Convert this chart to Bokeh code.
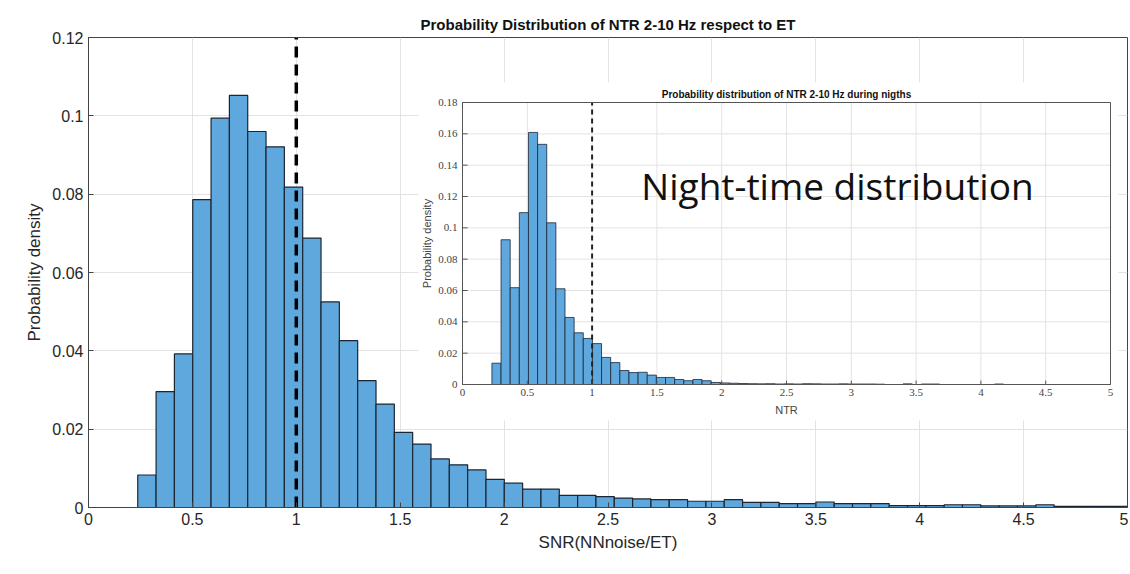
import numpy as np
from bokeh.plotting import figure
from bokeh.models import Range1d, CustomJSTickFormatter, FixedTicker, ColumnDataSource, Label
from bokeh.embed import file_html
from bokeh.resources import INLINE

# ---- main histogram data ----
main_edge0 = 0.237
main_width = 0.0882
main_heights = [0.0083, 0.0296, 0.0392, 0.0786, 0.0994, 0.1052, 0.0960, 0.0921, 0.0818, 0.0688,
                0.0525, 0.0426, 0.0324, 0.0264, 0.0192, 0.0162, 0.0124, 0.0109, 0.0096, 0.0072,
                0.0062, 0.0047, 0.0047, 0.0031, 0.0031, 0.0028, 0.0024, 0.0022, 0.0020, 0.0020,
                0.0016, 0.0016, 0.0020, 0.0013, 0.0013, 0.0010, 0.0010, 0.0014, 0.0010, 0.0010,
                0.0010, 0.0005, 0.0005, 0.0005, 0.0007, 0.0007, 0.0004, 0.0004, 0.0004, 0.0007,
                0.0003, 0.0003, 0.0003, 0.0003]

# ---- inset histogram data ----
inset_edge0 = 0.227
inset_width = 0.0705
inset_heights = [0.0136, 0.0924, 0.0618, 0.1097, 0.1609, 0.1533, 0.1032, 0.0611, 0.0428, 0.0330,
                 0.0294, 0.0261, 0.0173, 0.0140, 0.0089, 0.0076, 0.0078, 0.0060, 0.0045, 0.0045,
                 0.0032, 0.0024, 0.0032, 0.0024, 0.0013, 0.0010, 0.0008, 0.0006, 0.0005, 0.0004,
                 0.0005, 0.0003, 0.0004, 0.0003, 0.0005, 0.0004, 0.0003, 0.0003, 0.0004, 0.0003,
                 0.0003, 0.0003, 0.0002, 0.0000, 0.0000, 0.0004, 0.0000, 0.0003, 0.0003, 0.0000,
                 0.0000, 0.0000, 0.0000, 0.0000, 0.0000, 0.0003, 0.0000, 0.0000, 0.0000, 0.0000,
                 0.0000, 0.0000, 0.0000, 0.0000, 0.0000, 0.0000, 0.0000, 0.0000]

main_xticks = [0, 0.5, 1, 1.5, 2, 2.5, 3, 3.5, 4, 4.5, 5]
main_yticks = [0, 0.02, 0.04, 0.06, 0.08, 0.1, 0.12]
inset_xticks = [0, 0.5, 1, 1.5, 2, 2.5, 3, 3.5, 4, 4.5, 5]
inset_yticks = [0, 0.02, 0.04, 0.06, 0.08, 0.1, 0.12, 0.14, 0.16, 0.18]
threshold = 1.0

BAR = "#5EA8DD"
EDGE = "#1c2633"
GRID = "#e3e3e3"
TXT = "#262626"

p = figure(width=1128, height=560, output_backend="svg", toolbar_location=None,
           x_range=Range1d(0, 5), y_range=Range1d(0, 0.12),
           min_border_left=88, min_border_right=1, min_border_top=37, min_border_bottom=53,
           title="Probability Distribution of NTR 2-10 Hz respect to ET")
p.title.align = "center"
p.title.text_font = "Liberation Sans"
p.title.text_font_size = "15px"
p.title.text_color = "#111111"
p.title.offset = -4

fmt = CustomJSTickFormatter(code="return tick.toFixed(2).replace(/0+$/,'').replace(/\\.$/,'');")
p.xaxis.ticker = FixedTicker(ticks=main_xticks)
p.yaxis.ticker = FixedTicker(ticks=main_yticks)
p.yaxis.formatter = fmt
p.xaxis.formatter = fmt
for ax in (p.xaxis, p.yaxis):
    ax.major_label_text_font = "Liberation Sans"
    ax.major_label_text_font_size = "16px"
    ax.major_label_text_color = TXT
    ax.axis_label_text_font = "Liberation Sans"
    ax.axis_label_text_font_size = "17px"
    ax.axis_label_text_font_style = "normal"
    ax.axis_label_text_color = TXT
    ax.axis_line_color = "#444444"
    ax.major_tick_line_color = "#444444"
    ax.major_tick_in = 5
    ax.major_tick_out = 0
    ax.minor_tick_line_color = None
p.xaxis.axis_label = "SNR(NNnoise/ET)"
p.yaxis.axis_label = "Probability density"
p.outline_line_color = "#444444"
p.grid.grid_line_color = GRID
p.background_fill_color = "white"

n = len(main_heights)
ml = main_edge0 + main_width * np.arange(n)
p.quad(left=ml, right=ml + main_width, bottom=0, top=main_heights,
       fill_color=BAR, line_color=EDGE, line_width=1.2)
p.line(x=[threshold, threshold], y=[0, 0.12], line_color="black", line_width=3.5, line_dash="11 7")

# ---- inset mapped with extra ranges ----
fx0, fx1, fy0, fy1 = 88, 1127, 37, 507   # main frame px
ix0, ix1, iy0, iy1 = 462, 1110, 102, 384  # inset frame px
sx = (ix1 - ix0) / 5.0
sy = (iy1 - iy0) / 0.18
p.extra_x_ranges = {"ix": Range1d(-(ix0 - fx0) / sx, 5 + (fx1 - ix1) / sx)}
p.extra_y_ranges = {"iy": Range1d(-(fy1 - iy1) / sy, 0.18 + (iy0 - fy0) / sy)}
kw = dict(x_range_name="ix", y_range_name="iy")

p.quad(left=-(ix0 - 418) / sx, right=5 + (1118 - ix1) / sx, bottom=-(420 - iy1) / sy,
       top=0.18 + (iy0 - 82) / sy, fill_color="white", line_color=None, **kw)
for t in inset_xticks[1:-1]:
    p.line(x=[t, t], y=[0, 0.18], line_color=GRID, line_width=1, **kw)
for t in inset_yticks[1:-1]:
    p.line(x=[0, 5], y=[t, t], line_color=GRID, line_width=1, **kw)
m = len(inset_heights)
il = inset_edge0 + inset_width * np.arange(m)
ih = np.array(inset_heights)
keep = ih > 0
p.quad(left=il[keep], right=il[keep] + inset_width, bottom=0, top=ih[keep],
       fill_color=BAR, line_color=EDGE, line_width=0.8, **kw)
p.line(x=[threshold, threshold], y=[0, 0.18], line_color="#222222", line_width=2, line_dash="5 4", **kw)
p.quad(left=0, right=5, bottom=0, top=0.18, fill_color=None, line_color="#555555", line_width=1, **kw)
for t in inset_xticks:
    p.line(x=[t, t], y=[0, 0.0025], line_color="#555555", line_width=1, **kw)
for t in inset_yticks:
    p.line(x=[0, 0.04], y=[t, t], line_color="#555555", line_width=1, **kw)

xt_src = ColumnDataSource(dict(x=inset_xticks, y=[0] * len(inset_xticks),
                               t=[("%g" % v) for v in inset_xticks]))
p.text(x="x", y="y", text="t", source=xt_src, text_align="center", text_baseline="top",
       text_font_size="11px", text_color="#444444", y_offset=4, text_font="Liberation Sans", **kw)
yt_src = ColumnDataSource(dict(x=[0] * len(inset_yticks), y=inset_yticks,
                               t=[("%g" % v) for v in inset_yticks]))
p.text(x="x", y="y", text="t", source=yt_src, text_align="right", text_baseline="middle",
       text_font_size="11px", text_color="#444444", x_offset=-5, text_font="Liberation Sans", **kw)

p.add_layout(Label(x=2.5, y=0.18, text="Probability distribution of NTR 2-10 Hz during nigths",
                   text_align="center", text_baseline="bottom", y_offset=3, text_font="Liberation Sans",
                   text_font_size="10px", text_font_style="bold", text_color="#111111", **kw))
p.add_layout(Label(x=2.5, y=0, text="NTR", text_align="center", text_baseline="top", y_offset=-19,
                   text_font="Liberation Sans", text_font_size="11px", text_color="#444444", **kw))
p.add_layout(Label(x=0, y=0.09, text="Probability density", angle=np.pi / 2, text_align="center",
                   text_baseline="bottom", x_offset=-30, text_font="Liberation Sans",
                   text_font_size="11px", text_color="#444444", **kw))
p.add_layout(Label(x=1.38, y=0.127, text="Night-time distribution", text_align="left",
                   text_baseline="middle", text_font="Open Sans", text_font_size="37px",
                   text_color="#111111", **kw))

open("out.html", "w").write(file_html(p, INLINE))
